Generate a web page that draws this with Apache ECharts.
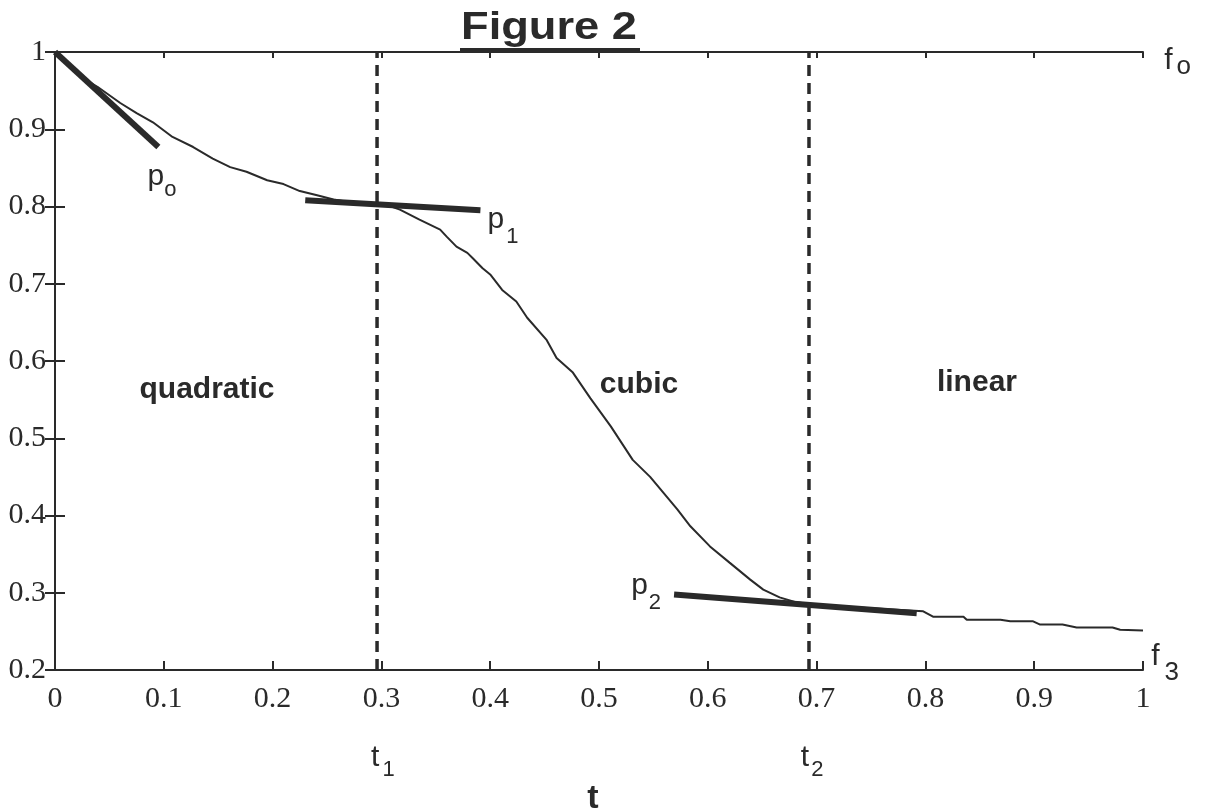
<!DOCTYPE html>
<html><head><meta charset="utf-8">
<script src="https://cdn.jsdelivr.net/npm/echarts@6/dist/echarts.min.js"></script>
<style>html,body{margin:0;padding:0;background:#fff}#c{width:1207px;height:812px}</style>
</head><body><div id="c"></div>
<script>
// ---- data ----
const curveT = [0, 0.012, 0.023, 0.039, 0.06, 0.075, 0.09, 0.108, 0.127, 0.145, 0.161, 0.176, 0.195, 0.21, 0.225, 0.24, 0.256, 0.27, 0.29, 0.305, 0.317, 0.335, 0.354, 0.36, 0.369, 0.379, 0.384, 0.393, 0.40, 0.411, 0.424, 0.434, 0.452, 0.461, 0.476, 0.492, 0.511, 0.531, 0.547, 0.572, 0.584, 0.602, 0.620, 0.639, 0.651, 0.666, 0.68, 0.70, 0.75, 0.798, 0.807, 0.835, 0.838, 0.869, 0.878, 0.899, 0.905, 0.926, 0.939, 0.972, 0.979, 1.0];
const curveV = [1.0, 0.985, 0.968, 0.955, 0.934, 0.921, 0.909, 0.890, 0.877, 0.862, 0.851, 0.845, 0.834, 0.829, 0.820, 0.815, 0.809, 0.806, 0.804, 0.802, 0.796, 0.783, 0.770, 0.761, 0.748, 0.740, 0.733, 0.720, 0.712, 0.692, 0.677, 0.656, 0.627, 0.604, 0.585, 0.552, 0.515, 0.472, 0.450, 0.408, 0.386, 0.360, 0.339, 0.317, 0.304, 0.294, 0.288, 0.284, 0.280, 0.276, 0.269, 0.269, 0.265, 0.265, 0.263, 0.263, 0.259, 0.259, 0.255, 0.255, 0.252, 0.251];

const p0T = [0, 0.095], p0V = [1.0, 0.877];
const p1T = [0.230, 0.391], p1V = [0.808, 0.795];
const p2T = [0.569, 0.792], p2V = [0.2976, 0.2736];
const breakT = [0.296, 0.693];

const xTickLabels = ['0','0.1','0.2','0.3','0.4','0.5','0.6','0.7','0.8','0.9','1'];
const yTickLabels = ['0.2','0.3','0.4','0.5','0.6','0.7','0.8','0.9','1'];

const regionNames = ['quadratic', 'cubic', 'linear'];
const regionT = [0.1397, 0.5368, 0.8474];
const regionV = [0.5627, 0.5697, 0.5723];

const annoMain = ['p', 'p', 'p', 'f', 'f', 't', 't'];
const annoSub  = ['o', '1', '2', 'o', '3', '1', '2'];
const annoT = [0.0855, 0.398, 0.530, 1.020, 1.008, 0.291, 0.686];
const annoV = [0.857, 0.801, 0.328, 1.008, 0.236, 0.105, 0.105];

// ---- styles ----
const SANS = '"Liberation Sans", Arial, Helvetica, sans-serif';
const SERIF = '"Liberation Serif", "Times New Roman", serif';
const INK = '#2a2a2a';
// [mainSize, subSize, subTopPad, subLeftPad]
const annoStyle = [[30,22,17,0],[30,22,21,2],[30,22,21,1],[30,26,9,4],[30,26,18,5],[30,22,16,3],[30,22,16,2]];

const rich = {};
annoStyle.forEach((s, i) => {
  rich['m' + i] = {fontSize: s[0], lineHeight: s[0], fontFamily: SANS, color: INK, verticalAlign: 'top'};
  rich['s' + i] = {fontSize: s[1], lineHeight: s[1], fontFamily: SANS, color: INK, verticalAlign: 'top', padding: [s[2], 0, 0, s[3]]};
});

const zip = (a, b) => a.map((x, i) => [x, b[i]]);

const chart = echarts.init(document.getElementById('c'), null, {renderer: 'canvas'});
const axisLine = {show: true, lineStyle: {color: INK, width: 2}};
chart.setOption({
  animation: false,
  backgroundColor: '#fff',
  grid: {left: 55, right: 64, top: 52, bottom: 142, containLabel: false, outerBoundsMode: 'none'},
  xAxis: [
    {type: 'value', min: 0, max: 1, interval: 0.1, position: 'bottom',
     axisLine, axisTick: {show: true, inside: true, length: 9, lineStyle: {color: INK, width: 2}},
     splitLine: {show: false},
     axisLabel: {margin: 14, fontFamily: SERIF, fontSize: 30, color: INK,
       formatter: v => xTickLabels[Math.round(v * 10)]},
     name: 't', nameLocation: 'middle', nameGap: 112,
     nameTextStyle: {fontFamily: SANS, fontWeight: 'bold', fontSize: 34, color: INK, padding: [0, 12, 0, 0]}},
    {type: 'value', min: 0, max: 1, interval: 0.1, position: 'top',
     axisLine, axisTick: {show: true, inside: true, length: 6, lineStyle: {color: INK, width: 2}},
     splitLine: {show: false}, axisLabel: {show: false}}
  ],
  yAxis: [
    {type: 'value', min: 0.2, max: 1, interval: 0.1, position: 'left',
     axisLine, axisTick: {show: true, inside: true, length: 10, lineStyle: {color: INK, width: 2}},
     splitLine: {show: false},
     axisLabel: {margin: 9, fontFamily: SERIF, fontSize: 30, color: INK,
       formatter: v => yTickLabels[Math.round((v - 0.2) * 10)]}},
    {type: 'value', min: 0.2, max: 1, interval: 0.1, position: 'right',
     axisLine, axisTick: {show: true, inside: true, length: 10, lineStyle: {color: INK, width: 2}},
     splitLine: {show: false}, axisLabel: {show: false}}
  ],
  graphic: [
    {type: 'text', x: 549, y: 28, scaleX: 1.16, silent: true,
     style: {text: 'Figure 2', font: 'bold 39px ' + SANS, fill: INK,
             textAlign: 'center', textVerticalAlign: 'middle', align: 'center', verticalAlign: 'middle'}},
    {type: 'rect', silent: true, shape: {x: 460, y: 48, width: 180, height: 5}, style: {fill: INK}}
  ],
  series: [
    {type: 'line', name: 'f', data: zip(curveT, curveV), showSymbol: false, silent: true, z: 3,
     lineStyle: {color: INK, width: 2}},
    {type: 'line', name: 'p0', data: zip(p0T, p0V), showSymbol: false, silent: true, z: 4,
     lineStyle: {color: INK, width: 6, cap: 'butt'}},
    {type: 'line', name: 'p1', data: zip(p1T, p1V), showSymbol: false, silent: true, z: 4,
     lineStyle: {color: INK, width: 6, cap: 'butt'}},
    {type: 'line', name: 'p2', data: zip(p2T, p2V), showSymbol: false, silent: true, z: 4,
     lineStyle: {color: INK, width: 6, cap: 'butt'}},
    ...breakT.map(t => ({type: 'line', data: [[t, 0.2], [t, 1.0]], showSymbol: false, silent: true, z: 2,
      lineStyle: {color: INK, width: 3.5, type: [11, 7]}})),
    {type: 'scatter', name: 'annotations', silent: true, clip: false, symbol: 'circle', symbolSize: 1,
     itemStyle: {color: 'rgba(0,0,0,0)', opacity: 1}, z: 5,
     label: {show: true, position: [0, 0], align: 'left', verticalAlign: 'top', rich, opacity: 1},
     data: annoT.map((t, i) => ({value: [t, annoV[i]],
       label: {formatter: '{m' + i + '|' + annoMain[i] + '}{s' + i + '|' + annoSub[i] + '}'}}))},
    {type: 'scatter', name: 'regions', silent: true, clip: false, symbol: 'circle', symbolSize: 1,
     itemStyle: {color: 'rgba(0,0,0,0)', opacity: 1}, z: 5,
     label: {show: true, position: 'inside', align: 'center', verticalAlign: 'middle', opacity: 1,
       fontFamily: SANS, fontWeight: 'bold', fontSize: 30, color: INK,
       formatter: p => regionNames[p.dataIndex]},
     data: zip(regionT, regionV)}
  ]
});
</script></body></html>
